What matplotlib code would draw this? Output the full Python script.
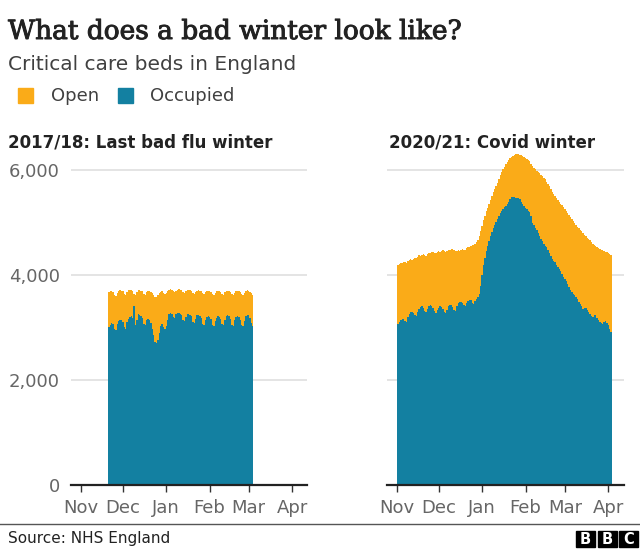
import pandas as pd
import matplotlib
matplotlib.use('Agg')
import matplotlib.pyplot as plt
import matplotlib.dates as mdates
import matplotlib.patheffects as pe
from matplotlib.patches import Rectangle

# 2017/18 winter, daily from 20 Nov 2017 (rows are weeks)
open_1718 = [
    3640, 3680, 3700, 3690, 3670, 3620, 3600,
    3660, 3700, 3710, 3700, 3690, 3640, 3610,
    3680, 3710, 3720, 3710, 3690, 3640, 3620,
    3680, 3710, 3720, 3700, 3690, 3640, 3610,
    3670, 3700, 3700, 3680, 3650, 3610, 3580,
    3590, 3620, 3660, 3680, 3690, 3660, 3640,
    3650, 3690, 3720, 3730, 3720, 3690, 3670,
    3700, 3720, 3730, 3720, 3710, 3680, 3660,
    3690, 3710, 3720, 3710, 3700, 3660, 3640,
    3680, 3700, 3710, 3700, 3690, 3650, 3630,
    3670, 3700, 3700, 3690, 3680, 3640, 3620,
    3660, 3690, 3700, 3690, 3680, 3640, 3620,
    3670, 3690, 3700, 3690, 3670, 3630, 3610,
    3660, 3690, 3700, 3690, 3680, 3640, 3620,
    3660, 3690, 3710, 3700, 3680, 3650, 3620,
]
occupied_1718 = [
    2960, 3000, 3050, 3080, 3060, 2980, 2950,
    3060, 3120, 3150, 3140, 3100, 3000, 2980,
    3100, 3170, 3200, 3220, 3180, 3410, 3040,
    3150, 3250, 3230, 3220, 3180, 3070, 3050,
    3150, 3170, 3140, 3080, 2980, 2850, 2720,
    2700, 2760, 2900, 3020, 3060, 3000, 2980,
    3020, 3150, 3250, 3280, 3260, 3200, 3180,
    3250, 3280, 3270, 3260, 3230, 3150, 3120,
    3200, 3250, 3260, 3240, 3210, 3100, 3080,
    3170, 3230, 3240, 3220, 3180, 3060, 3050,
    3150, 3200, 3220, 3200, 3160, 3050, 3020,
    3130, 3190, 3210, 3200, 3170, 3060, 3040,
    3150, 3210, 3230, 3210, 3160, 3050, 3030,
    3140, 3200, 3220, 3200, 3150, 3050, 3030,
    3130, 3210, 3240, 3230, 3180, 3080, 3020,
]

# 2020/21 winter, daily from 1 Nov 2020
open_2021 = [
    4180, 4190, 4210, 4230, 4220, 4240, 4250,
    4230, 4260, 4280, 4300, 4290, 4310, 4330,
    4320, 4350, 4380, 4370, 4390, 4400, 4380,
    4370, 4400, 4420, 4410, 4430, 4440, 4420,
    4410, 4430, 4450, 4440, 4460, 4470, 4450,
    4430, 4460, 4480, 4470, 4490, 4500, 4470,
    4450, 4460, 4470, 4460, 4480, 4490, 4470,
    4480, 4510, 4530, 4540, 4560, 4570, 4580,
    4600, 4630, 4670, 4740, 4830, 4940, 5050,
    5130, 5210, 5280, 5350, 5430, 5510, 5580,
    5640, 5700, 5760, 5830, 5900, 5960, 6010,
    6060, 6110, 6160, 6200, 6230, 6250, 6270,
    6290, 6310, 6320, 6300, 6290, 6280, 6260,
    6240, 6230, 6210, 6190, 6170, 6120, 6080,
    6040, 6010, 5990, 5960, 5940, 5910, 5880,
    5850, 5820, 5780, 5740, 5690, 5640, 5590,
    5550, 5510, 5470, 5430, 5400, 5360, 5330,
    5290, 5250, 5210, 5180, 5140, 5100, 5060,
    5020, 4990, 4960, 4920, 4890, 4860, 4830,
    4800, 4770, 4740, 4710, 4690, 4660, 4630,
    4600, 4580, 4560, 4540, 4520, 4500, 4480,
    4470, 4450, 4440, 4430, 4420, 4400, 4390,
    4380,
]
occupied_2021 = [
    3020, 3060, 3110, 3150, 3170, 3160, 3120,
    3110, 3200, 3260, 3290, 3300, 3280, 3230,
    3210, 3300, 3360, 3390, 3400, 3380, 3320,
    3290, 3350, 3400, 3420, 3410, 3380, 3320,
    3280, 3330, 3380, 3400, 3390, 3360, 3300,
    3280, 3340, 3400, 3420, 3420, 3390, 3330,
    3320, 3400, 3460, 3480, 3490, 3470, 3420,
    3400, 3460, 3510, 3530, 3520, 3470, 3450,
    3500, 3540, 3580, 3640, 3800, 4000, 4200,
    4330, 4450, 4560, 4650, 4740, 4820, 4890,
    4950, 5010, 5070, 5130, 5180, 5220, 5260,
    5290, 5320, 5360, 5400, 5440, 5480, 5490,
    5480, 5470, 5460, 5470, 5450, 5400, 5360,
    5320, 5280, 5250, 5220, 5200, 5120, 5000,
    4950, 4900, 4850, 4800, 4740, 4690, 4640,
    4590, 4560, 4530, 4480, 4420, 4360, 4310,
    4270, 4240, 4200, 4160, 4120, 4070, 4020,
    3960, 3920, 3880, 3830, 3780, 3720, 3680,
    3640, 3620, 3590, 3540, 3480, 3440, 3400,
    3360, 3380, 3370, 3340, 3300, 3250, 3220,
    3200, 3240, 3230, 3190, 3140, 3100, 3080,
    3070, 3110, 3120, 3090, 3040, 2980, 2920,
    2880,
]

panel_titles = ['2017/18: Last bad flu winter', '2020/21: Covid winter']
start_dates = ['2017-11-20', '2020-11-01']
y_ticks = [0, 2000, 4000, 6000]

ORANGE = '#FAAB18'
TEAL = '#1380A1'

W, H = 640, 549
fig = plt.figure(figsize=(W / 100, H / 100), dpi=100)


def fx(px):
    return px / W


def fy(py):
    return 1 - py / H


def draw_panel(ax, start, open_vals, occ_vals, xlim, show_y):
    dates = pd.date_range(start, periods=len(open_vals), freq='D')
    x = mdates.date2num(dates)
    ax.fill_between(x, 0, open_vals, step='mid', color=ORANGE, lw=0, zorder=2)
    ax.fill_between(x, 0, occ_vals, step='mid', color=TEAL, lw=0, zorder=3)
    ax.set_xlim(mdates.date2num(pd.Timestamp(xlim[0])), mdates.date2num(pd.Timestamp(xlim[1])))
    ax.set_ylim(0, 6300)
    ax.xaxis.set_major_locator(mdates.MonthLocator())
    ax.xaxis.set_major_formatter(mdates.DateFormatter('%b'))
    ax.set_yticks(y_ticks)
    ax.yaxis.grid(True, color='#dddddd', lw=1.1)
    ax.set_axisbelow(True)
    for s in ['top', 'right', 'left']:
        ax.spines[s].set_visible(False)
    ax.spines['bottom'].set_color('#222222')
    ax.spines['bottom'].set_linewidth(1.6)
    ax.spines['bottom'].set_zorder(5)
    ax.tick_params(axis='x', length=5, width=1, color='#333333', labelsize=13,
                   labelcolor='#666666', pad=5)
    ax.tick_params(axis='y', length=0, labelsize=13, labelcolor='#666666', pad=8)
    if show_y:
        ax.set_yticklabels([f'{v:,}' for v in y_ticks])
    else:
        ax.set_yticklabels([])


ax1 = fig.add_axes([fx(71), 1 - 485 / H, 236 / W, 330.75 / H])
ax2 = fig.add_axes([fx(387), 1 - 485 / H, 237 / W, 330.75 / H])
draw_panel(ax1, start_dates[0], open_1718, occupied_1718,
           ('2017-10-24 20:00', '2018-04-11 16:00'), True)
draw_panel(ax2, start_dates[1], open_2021, occupied_2021,
           ('2020-10-25 03:00', '2021-04-12 05:00'), False)

# titles
fig.text(fx(8), fy(39), 'What does a bad winter look like?', family='DejaVu Serif',
         fontsize=19, color='#222222', va='baseline',
         path_effects=[pe.withStroke(linewidth=0.7, foreground='#222222')])
fig.text(fx(8), fy(70), 'Critical care beds in England', fontsize=14.5,
         color='#404040', va='baseline')

# legend
fig.add_artist(Rectangle((fx(18), fy(103)), 15 / W, 15 / H, color=ORANGE,
                         transform=fig.transFigure))
fig.text(fx(51), fy(101), 'Open', fontsize=13, color='#404040', va='baseline')
fig.add_artist(Rectangle((fx(118), fy(103)), 15 / W, 15 / H, color=TEAL,
                         transform=fig.transFigure))
fig.text(fx(150), fy(101), 'Occupied', fontsize=13, color='#404040', va='baseline')

# panel titles
fig.text(fx(8), fy(147), panel_titles[0], fontsize=12, fontweight='bold',
         color='#222222', va='baseline')
fig.text(fx(389), fy(147), panel_titles[1], fontsize=12, fontweight='bold',
         color='#222222', va='baseline')

# footer
fig.add_artist(plt.Line2D([0, 1], [fy(524), fy(524)], color='#555555', lw=1,
                          transform=fig.transFigure))
fig.text(fx(8), fy(543), 'Source: NHS England', fontsize=11, color='#222222',
         va='baseline')
for i, letter in enumerate('BBC'):
    x0 = 576 + i * 21.5
    fig.add_artist(Rectangle((fx(x0), fy(547)), 19 / W, 16 / H, color='black',
                             transform=fig.transFigure))
    fig.text(fx(x0 + 9.5), fy(539), letter, fontsize=10.5, fontweight='bold',
             color='white', ha='center', va='center')

fig.savefig('out.png', dpi=100)
